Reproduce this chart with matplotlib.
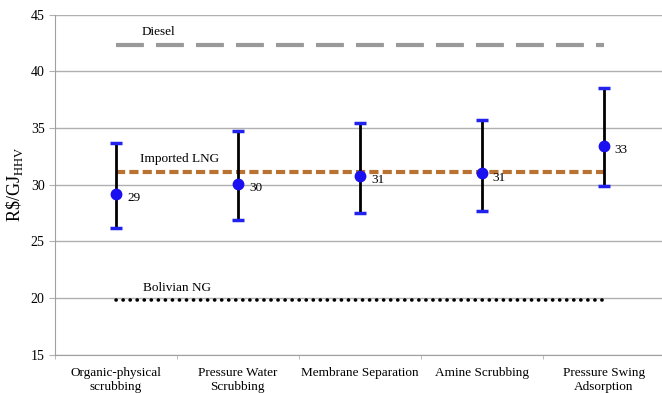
import matplotlib.pyplot as plt
import numpy as np

plt.rcParams['font.family'] = ['Liberation Serif', 'DejaVu Serif']

# data
processes = ["Organic-physical\nscrubbing", "Pressure Water\nScrubbing",
             "Membrane Separation", "Amine Scrubbing", "Pressure Swing\nAdsorption"]
cost = [29.2, 30.1, 30.8, 31.0, 33.4]
cost_high = [33.7, 34.7, 35.4, 35.7, 38.5]
cost_low = [26.2, 26.9, 27.5, 27.7, 29.9]
cost_labels = ["29", "30", "31", "31", "33"]

diesel = 42.3
imported_lng = 31.1
bolivian_ng = 19.8

x = np.arange(len(processes))
yerr = [np.array(cost) - np.array(cost_low), np.array(cost_high) - np.array(cost)]

fig = plt.figure(figsize=(6.62, 3.93), dpi=100)
ax = fig.add_axes([0.083, 0.097, 0.921, 0.866])

# reference lines
ax.plot(x, [diesel] * len(x), color="#999999", lw=3, dashes=(6.7, 2.9))
ax.plot(x, [imported_lng] * len(x), color="#B87333", lw=3, dashes=(2.2, 1.0))
ax.plot(x, [bolivian_ng] * len(x), color="black", lw=2.6, linestyle=(0, (0.05, 1.9)),
        dash_capstyle="round")

ax.text(0.35, diesel + 0.6, "Diesel", fontsize=9.5, va="bottom", ha="center")
ax.text(0.52, imported_lng + 0.6, "Imported LNG", fontsize=9.5, va="bottom", ha="center")
ax.text(0.5, bolivian_ng + 0.6, "Bolivian NG", fontsize=9.5, va="bottom", ha="center")

# error bars: black stem, blue caps
ax.errorbar(x, cost, yerr=yerr, fmt="none", ecolor="black", elinewidth=2, capsize=0, zorder=3)
ax.plot(x, cost_high, linestyle="none", marker="_", color="#2222ee", ms=8, mew=2.5, zorder=4)
ax.plot(x, cost_low, linestyle="none", marker="_", color="#2222ee", ms=8, mew=2.5, zorder=4)
ax.plot(x, cost, linestyle="none", marker="o", color="#1a10f0", ms=7.5, zorder=5)

for xi, yi, lab in zip(x, cost, cost_labels):
    ax.annotate(lab, (xi, yi), xytext=(8, -3), textcoords="offset points",
                fontsize=9.5, va="center", ha="left")

ax.set_xlim(-0.5, len(processes) - 0.5)
ax.set_ylim(15, 45)
ax.set_yticks(np.arange(15, 46, 5))
ax.set_xticks(x)
ax.set_xticklabels(processes, fontsize=9.5)
ax.set_xticks(np.arange(-0.5, len(processes), 1), minor=True)
ax.tick_params(axis="x", which="major", length=0, pad=9)
ax.tick_params(axis="x", which="minor", length=3, color="#b0b0b0")
ax.tick_params(axis="y", length=4, color="#b0b0b0", labelsize=10)

ax.set_ylabel(r"R\$/GJ$_{\mathregular{HHV}}$", fontsize=13, labelpad=4)

ax.grid(True, axis="y", color="#b0b0b0", lw=1)
ax.set_axisbelow(True)
for side in ["top", "right"]:
    ax.spines[side].set_visible(False)
for side in ["left", "bottom"]:
    ax.spines[side].set_color("#a0a0a0")

fig.savefig("out.png", dpi=100)
